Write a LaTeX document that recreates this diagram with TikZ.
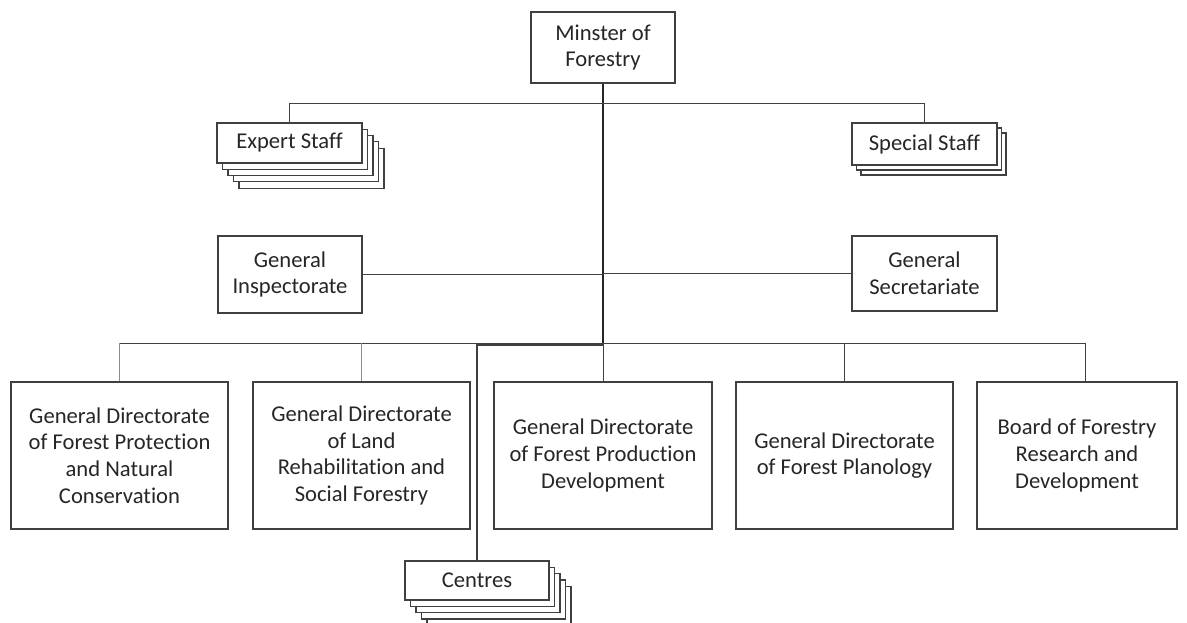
\documentclass[tikz,border=0pt]{standalone}
\usepackage{fontspec}
\setmainfont{Carlito}[RawFeature={-liga,-clig,-dlig}]
\usetikzlibrary{shadows}
\begin{document}
\begin{tikzpicture}[x=1pt,y=-1pt,
  box/.style={draw=black!75, line width=1.2pt, fill=white, inner sep=0pt,
    align=center, font=\fontsize{22.6}{26.7}\selectfont, text=black!85},
  link/.style={draw=black!75, line width=0.9pt},
  thinlink/.style={draw=black!45, line width=0.8pt},
  stackcopy/.style={copy shadow={shadow xshift=#1*5.5pt, shadow yshift=-#1*6.3pt,
    draw=black!75, line width=1.2pt, fill=white}},
]
\useasboundingbox (0,0) rectangle (1187,623);
\clip (0,0) rectangle (1187,623);

% top of the chart
\node[box, minimum width=144pt, minimum height=71pt] (min) at (603,47.5) {Minster of\\Forestry};

% staff units (stacked boxes)
\node[box, minimum width=145pt, minimum height=40pt,
  stackcopy=4, stackcopy=3, stackcopy=2, stackcopy=1] (exp) at (289.5,143) {Expert Staff};
\node[box, minimum width=145pt, minimum height=42pt,
  copy shadow={shadow xshift=9pt, shadow yshift=-10pt, draw=black!75, line width=1.2pt, fill=white},
  copy shadow={shadow xshift=4.5pt, shadow yshift=-5pt, draw=black!75, line width=1.2pt, fill=white}]
  (spec) at (924.5,144) {Special Staff};

% inspectorate and secretariate
\node[box, minimum width=144pt, minimum height=77pt] (insp) at (290,274.5) {General\\Inspectorate};
\node[box, minimum width=145pt, minimum height=75pt] (sec) at (924.5,273.5) {General\\Secretariate};

% directorates
\node[box, minimum width=217pt, minimum height=147pt] (d1) at (119.5,455.5)
  {General Directorate\\of Forest Protection\\and Natural\\Conservation};
\node[box, minimum width=217pt, minimum height=147pt] (d2) at (361.5,455.5)
  {General Directorate\\of Land\\Rehabilitation and\\Social Forestry};
\node[box, minimum width=218pt, minimum height=147pt] (d3) at (603,455.5)
  {General Directorate\\of Forest Production\\Development};
\node[box, minimum width=217pt, minimum height=147pt] (d4) at (844.5,455.5)
  {General Directorate\\of Forest Planology};
\node[box, minimum width=200pt, minimum height=147pt] (d5) at (1077,455.5)
  {Board of Forestry\\Research and\\Development};

% centres (stacked boxes)
\node[box, minimum width=144pt, minimum height=39pt,
  stackcopy=4, stackcopy=3, stackcopy=2, stackcopy=1] (cen) at (477,580.5) {Centres};

% bus coordinates
\coordinate (topL) at (289.5,103);
\coordinate (topR) at (924.5,103);
\coordinate (busC) at (603,343);
\coordinate (busL) at (119.5,343);
\coordinate (busR) at (1085,343);
\coordinate (cenTurn) at (477,345);

% connectors
\draw[link, line width=1.2pt, draw=black!85] (min.south) -- (busC);
\draw[link] (topL) -- (topR);
\draw[link] (topL) -- (exp.north);
\draw[link] (topR) -- (spec.north);
\draw[link] (insp.east) -- (insp.east -| min.south);
\draw[link] (sec.west) -- (sec.west -| min.south);
\draw[link] (busL) -- (busR);
\draw[thinlink] (busL) -- (d1.north);
\draw[thinlink] (busL -| d2.north) -- (d2.north);
\draw[link] (busC) -- (d3.north);
\draw[link] (busL -| d4.north) -- (d4.north);
\draw[link] (busR) -- (busR |- d5.north);
\draw[link, line width=1.1pt] (busC |- cenTurn) -- (cenTurn) -- (cen.north);
\end{tikzpicture}
\end{document}
